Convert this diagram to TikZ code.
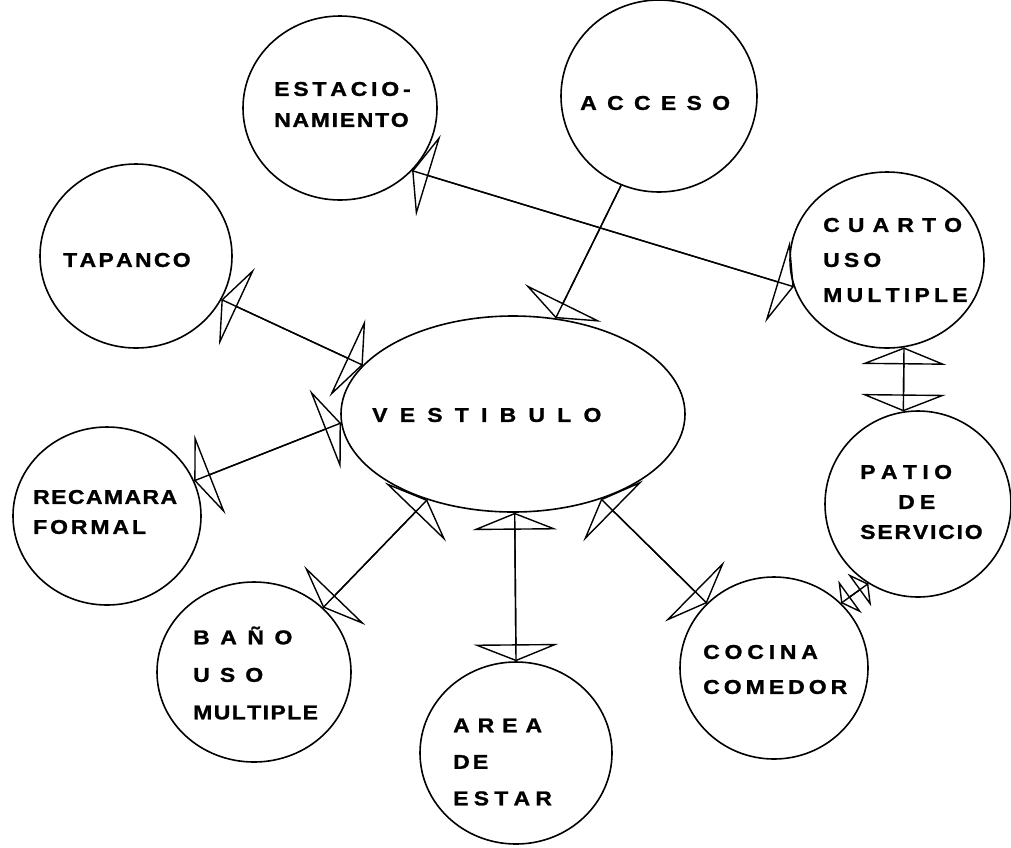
\documentclass[tikz,border=0pt]{standalone}
\usepackage{fontspec}
\usetikzlibrary{shapes.geometric,arrows.meta}
\newfontfamily\lbfont[FakeStretch=1.15, FakeBold=1.2]{Liberation Sans}
\newdimen\lsk
\def\lsloop#1{\ifx\relax#1\else#1\kern\lsk\expandafter\lsloop\fi}
\newcommand\LS[2]{\lsk=#1pt\relax\lsloop#2\relax}
\begin{document}
\begin{tikzpicture}[x=1pt,y=-1pt,
  room/.style={draw, ellipse, line width=1.6pt, inner sep=0pt},
  lbl/.style={anchor=west, inner sep=0pt, align=left,
    font=\lbfont\bfseries\fontsize{20}{#1}\selectfont},
  lbl/.default=30,
  link/.style={line width=1.4pt},
  >={Triangle[open, length=17pt, width=85pt]},
  bi/.style={link, <->},
  uni/.style={link, ->},
  bismall/.style={link, {Triangle[open, length=11pt, width=40pt]}-{Triangle[open, length=11pt, width=40pt]}}
]
\useasboundingbox (0,0) rectangle (1011,847);

% rooms
\node[room, minimum width=194pt, minimum height=184pt] (est) at (340,108) {};
\node[room, minimum width=196pt, minimum height=192pt] (acc) at (659,96) {};
\node[room, minimum width=192pt, minimum height=184pt] (tap) at (136,256) {};
\node[room, minimum width=194pt, minimum height=176pt] (cua) at (887,260) {};
\node[room, minimum width=344pt, minimum height=196pt] (ves) at (513,414) {};
\node[room, minimum width=188pt, minimum height=178pt] (rec) at (107,516) {};
\node[room, minimum width=186pt, minimum height=186pt] (pat) at (918,504) {};
\node[room, minimum width=194pt, minimum height=180pt] (ban) at (254,672) {};
\node[room, minimum width=192pt, minimum height=182pt] (are) at (516,753) {};
\node[room, minimum width=188pt, minimum height=182pt] (coc) at (774,668) {};

% labels
\node[lbl=31] (tEst) at (274,104.5) {\LS{3.8}{ESTACIO-}\\\LS{1.7}{NAMIENTO}};
\node[lbl] (tAcc) at (580,103) {\LS{10.3}{ACCESO}};
\node[lbl] (tTap) at (63,260) {\LS{2.3}{TAPANCO}};
\node[lbl=35] (tCua) at (823,260) {\LS{8.1}{CUARTO}\\\LS{4.1}{USO}\\\LS{4.2}{MULTIPLE}};
\node[lbl] (tVes) at (372,415) {\LS{12.2}{VESTIBULO}};
\node[lbl=30] (tRec) at (33,512) {\LS{1.4}{RECAMARA}\\\LS{2.9}{FORMAL}};
\node[lbl=30] (tPat) at (860,502) {\LS{5.4}{PATIO}\\\hspace*{38pt}\LS{5.1}{DE}\\\LS{1.8}{SERVICIO}};
\node[lbl=37.5] (tBan) at (193,673) {\LS{10.5}{BAÑO}\\\LS{10.1}{USO}\\\LS{1.4}{MULTIPLE}};
\node[lbl=36.5] (tAre) at (453,762) {\LS{7.9}{AREA}\\\LS{3.1}{DE}\\\LS{5.2}{ESTAR}};
\node[lbl=35] (tCoc) at (703,669.5) {\LS{4.8}{COCINA}\\\LS{4}{COMEDOR}};

% connectors (line to the tip, then the open triangles)
\foreach \a/\b in {est.-41.6/cua.196.9, tap.-27.1/ves.162.3, rec.22.9/ves.183.3,
                   ban.43.7/ves.-135, are.90/ves.-89, coc.136.8/ves.-44.3,
                   cua.-79.8/pat.99.2}{
  \draw[link] (\a) -- (\b);
  \draw[bi] (\a) -- (\b);
}
\draw[link] (acc.247.4) -- (ves.66.1);
\draw[uni] (acc.247.4) -- (ves.66.1);
\draw[link] (coc.44.1) -- (pat.-122.3);
\draw[bismall] (coc.44.1) -- (pat.-122.3);
\end{tikzpicture}
\end{document}
